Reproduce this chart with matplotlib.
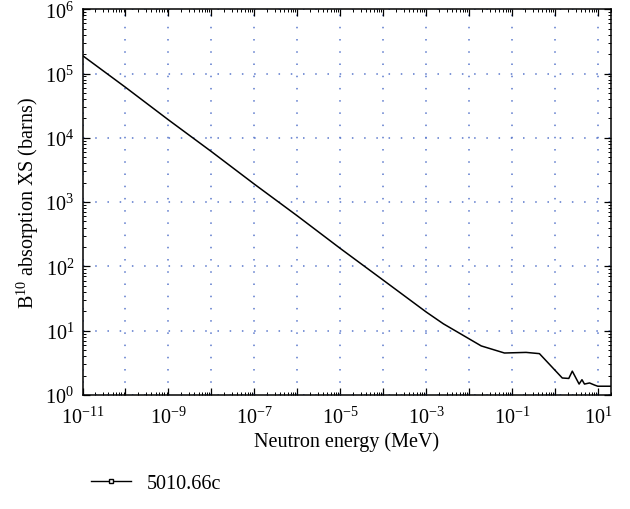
import numpy as np
import matplotlib
matplotlib.use("Agg")
import matplotlib.pyplot as plt
from matplotlib.ticker import LogLocator, FuncFormatter, NullFormatter

plt.rcParams['font.family'] = ['Liberation Serif', 'DejaVu Serif']
plt.rcParams['mathtext.fontset'] = 'custom'
plt.rcParams['mathtext.rm'] = 'Liberation Serif'
plt.rcParams['mathtext.it'] = 'Liberation Serif:italic'

# B-10 absorption cross section
energy = [1e-11, 1e-10, 1e-9, 1e-8, 1e-7, 1e-6, 1e-5, 1e-4, 1e-3, 2.5e-3,
          6e-3, 0.019, 0.066, 0.21, 0.43, 1.46, 2.07, 2.5, 3.6, 4.2, 4.8,
          6.3, 8.2, 9.8, 20.0]
xs = [1.9e5, 6.1e4, 1.9e4, 6.1e3, 1.9e3, 610, 190, 61, 19.5, 12.8,
      9.1, 5.8, 4.5, 4.6, 4.4, 1.84, 1.81, 2.35, 1.48, 1.73, 1.48,
      1.54, 1.43, 1.37, 1.37]
series_name = '5010.66c'

fig = plt.figure(figsize=(6.3, 5.1), dpi=100)
ax = fig.add_axes([0.131, 0.2235, 0.839, 0.7565])

ax.plot(energy, xs, color='black', lw=1.1)
ax.set_xscale('log')
ax.set_yscale('log')
ax.set_xlim(1e-11, 20)
ax.set_ylim(1, 1e6)

ax.xaxis.set_major_locator(LogLocator(base=10, numticks=30))
ax.yaxis.set_major_locator(LogLocator(base=10, numticks=30))
ax.xaxis.set_minor_locator(LogLocator(base=10, subs=np.arange(2, 10), numticks=30))
ax.yaxis.set_minor_locator(LogLocator(base=10, subs=np.arange(2, 10), numticks=30))
ax.xaxis.set_minor_formatter(NullFormatter())
ax.yaxis.set_minor_formatter(NullFormatter())


def xfmt(v, pos):
    e = int(round(np.log10(v)))
    if e % 2 == 0:
        return ''
    return r'$10^{%d}$' % e


def yfmt(v, pos):
    e = int(round(np.log10(v)))
    return r'$10^{%d}$' % e


ax.xaxis.set_major_formatter(FuncFormatter(xfmt))
ax.yaxis.set_major_formatter(FuncFormatter(yfmt))

ax.tick_params(which='both', direction='in', top=True, right=True,
               labelsize=14.5, colors='black')
ax.tick_params(which='major', length=5, width=0.9)
ax.tick_params(which='minor', length=2.5, width=0.7)
ax.tick_params(axis='x', pad=8)
ax.tick_params(axis='y', pad=6)

ax.grid(True, which='major', linestyle=(0, (1, 7)), color='#5a78cc', lw=1.1)
for s in ax.spines.values():
    s.set_linewidth(1.1)

ax.set_xlabel('Neutron energy (MeV)', fontsize=14.5, labelpad=3)
ax.set_ylabel(r'B$^{10}$ absorption XS (barns)', fontsize=14.5, labelpad=3)

proxy, = ax.plot([], [], color='black', lw=1.0, marker='s', markersize=3,
                 markerfacecolor='white', markeredgecolor='black')
fig.legend([proxy], [series_name], loc='lower left',
           bbox_to_anchor=(0.115, -0.005), frameon=False, fontsize=14.5,
           handlelength=2.0)

fig.savefig('out.png', dpi=100)
